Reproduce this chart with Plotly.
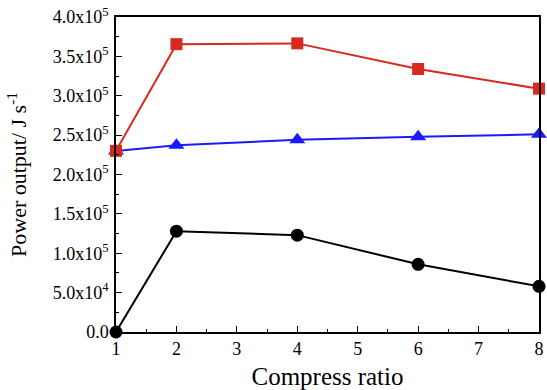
import plotly.graph_objects as go

# Compress ratio values (x axis)
compress_ratio = [1, 2, 4, 6, 8]

# Power output series, J s^-1
power_red = [2.30e5, 3.655e5, 3.665e5, 3.34e5, 3.09e5]
power_blue = [2.30e5, 2.37e5, 2.44e5, 2.48e5, 2.51e5]
power_black = [0.0, 1.28e5, 1.23e5, 0.86e5, 0.58e5]

# Y tick positions and labels
y_tickvals = [0, 5e4, 1e5, 1.5e5, 2e5, 2.5e5, 3e5, 3.5e5, 4e5]
y_ticktext = ["0.0", "5.0x10<sup>4</sup>", "1.0x10<sup>5</sup>", "1.5x10<sup>5</sup>",
              "2.0x10<sup>5</sup>", "2.5x10<sup>5</sup>", "3.0x10<sup>5</sup>",
              "3.5x10<sup>5</sup>", "4.0x10<sup>5</sup>"]

FONT = "Liberation Serif"

fig = go.Figure()

fig.add_trace(go.Scatter(
    x=compress_ratio, y=power_black, mode="lines+markers",
    line=dict(color="black", width=2),
    marker=dict(symbol="circle", size=13, color="black"),
    cliponaxis=False, showlegend=False))

fig.add_trace(go.Scatter(
    x=compress_ratio, y=power_blue, mode="lines+markers",
    line=dict(color="#1a1aff", width=2),
    marker=dict(symbol="triangle-up", size=14, color="#1a1aff"),
    cliponaxis=False, showlegend=False))

fig.add_trace(go.Scatter(
    x=compress_ratio, y=power_red, mode="lines+markers",
    line=dict(color="#d62a1e", width=2),
    marker=dict(symbol="square", size=12, color="#d62a1e"),
    cliponaxis=False, showlegend=False))

axis_common = dict(
    showline=True, linecolor="black", linewidth=1.5, mirror=True,
    ticks="inside", ticklen=6, tickwidth=1.2, tickcolor="black",
    showgrid=False, zeroline=False,
    tickfont=dict(family=FONT, size=18, color="black"),
)

fig.update_xaxes(
    range=[1, 8], tickvals=[1, 2, 3, 4, 5, 6, 7, 8],
    minor=dict(ticks="inside", ticklen=3, tickwidth=1.2, tickcolor="black",
               dtick=0.5, tick0=1),
    title=dict(text="Compress ratio", font=dict(family=FONT, size=25, color="black"),
               standoff=10),
    ticklabelstandoff=0,
    **axis_common)

fig.update_yaxes(
    range=[0, 4e5], tickvals=y_tickvals, ticktext=y_ticktext,
    minor=dict(ticks="inside", ticklen=3, tickwidth=1.2, tickcolor="black",
               dtick=2.5e4, tick0=0),
    title=dict(text="Power output/ J s<sup>-1</sup>",
               font=dict(family=FONT, size=22, color="black"), standoff=20),
    ticklabelstandoff=2,
    **axis_common)

fig.update_layout(
    width=547, height=390,
    margin=dict(l=116, r=3, t=17, b=57),
    paper_bgcolor="white", plot_bgcolor="white",
)

fig.write_html("out.html")
